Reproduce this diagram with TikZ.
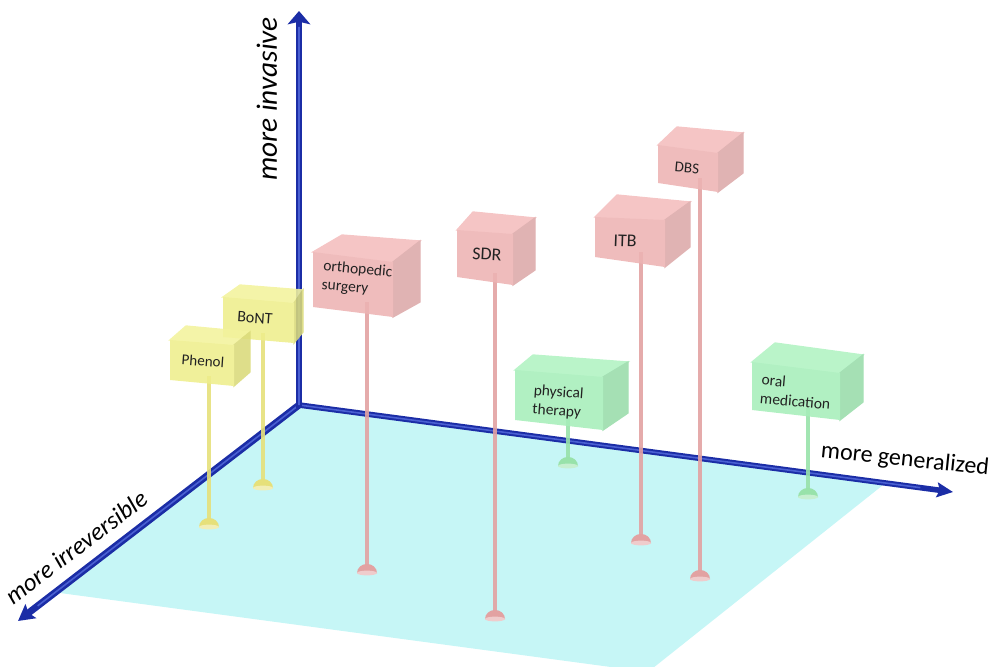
\documentclass[tikz,border=0pt]{standalone}
\usepackage{fontspec}
\setmainfont{Carlito}
\usetikzlibrary{arrows.meta,calc}
\definecolor{floorc}{HTML}{C6F6F6}
\definecolor{axisblue}{HTML}{1B2DA6}
\definecolor{axishl}{HTML}{4A60D2}
\definecolor{redF}{HTML}{EDB3B3}
\definecolor{redT}{HTML}{F4BDBD}
\definecolor{redS}{HTML}{DCA8A8}
\definecolor{redStem}{HTML}{E2A2A2}
\definecolor{yelF}{HTML}{EEEE8C}
\definecolor{yelT}{HTML}{F3F39C}
\definecolor{yelS}{HTML}{DADA7A}
\definecolor{yelStem}{HTML}{E6E07A}
\definecolor{grnF}{HTML}{A6EEB9}
\definecolor{grnT}{HTML}{B0F3C2}
\definecolor{grnS}{HTML}{98DCAA}
\definecolor{grnStem}{HTML}{98E2AA}
\definecolor{labtext}{HTML}{222222}

\newcommand\boxpts[8]{%
  \coordinate (#1FLT) at (#2);
  \coordinate (#1FRT) at (#3);
  \coordinate (#1FRB) at (#4);
  \coordinate (#1FLB) at (#5);
  \coordinate (#1BLT) at (#6);
  \coordinate (#1BRT) at (#7);
  \coordinate (#1BRB) at (#8);
}
\newcommand\drawcuboid[2]{%
  \begin{scope}[transparency group,opacity=.88,line width=.7pt,line join=round]
  \filldraw[fill=#2T,draw=#2T] (#1FLT) -- (#1BLT) -- (#1BRT) -- (#1FRT) -- cycle;
  \filldraw[fill=#2S,draw=#2S] (#1FRT) -- (#1BRT) -- (#1BRB) -- (#1FRB) -- cycle;
  \fill[#2F] (#1FLT) -- (#1FRT) -- (#1FRB) -- (#1FLB) -- cycle;
  \end{scope}
}
\newcommand\stempole[5]{%
  \coordinate (#1top) at (#2,#3);
  \coordinate (#1base) at (#2,#4);
  \draw[stemline,#5] (#1top) -- (#1base);
  \fill[#5] ($(#1base)+(-10,0)$) arc[start angle=180,end angle=0,x radius=7.5pt,y radius=6.8pt] -- cycle;
  \fill[#5!55!white] (#1base) ellipse [x radius=7.5pt,y radius=1.8pt];
}

\tikzset{
  stemline/.style={line width=2.8pt,draw opacity=.9},
  axisline/.style={axisblue,line width=4.8pt},
  axishigh/.style={axishl,line width=1.2pt},
  axislabel/.style={font=\fontsize{18}{20}\selectfont,text=black,inner sep=0pt},
  boxlabel/.style={text=labtext,inner sep=0pt,align=left,font=\fontsize{11.6}{14}\selectfont},
}

\begin{document}
\begin{tikzpicture}[x=0.75pt,y=-0.75pt]
\useasboundingbox (0,0) rectangle (992,667);

% floor
\coordinate (O) at (299,405);
\coordinate (Fr) at (883,485);
\coordinate (Ff) at (648,672);
\coordinate (Fl) at (60,593);
\fill[floorc] (O) -- (Fr) -- (Ff) -- (Fl) -- cycle;

% axes
\coordinate (Xtip) at (953,492);
\coordinate (Ytip) at (18,621);
\coordinate (Ztip) at (299,11);
\draw[axisline,line width=4.2pt,-{Stealth[length=12pt,width=11pt,inset=2pt]}] (O) -- (Xtip);
\draw[axishigh] (O) -- ($(O)!0.95!(Xtip)$);
\draw[axisline,line width=5.2pt,-{Stealth[length=12pt,width=13pt,inset=2pt]}] (O) -- (Ytip);
\draw[axishigh] (O) -- ($(O)!0.93!(Ytip)$);
\draw[axisline,line width=5.2pt,-{Stealth[length=10pt,width=17pt,inset=2pt]}] ($(O)+(0,3)$) -- (Ztip);
\draw[axishigh] ($(O)+(0,0)$) -- ($(O)!0.96!(Ztip)$);

\node[axislabel,font=\fontsize{22}{24}\selectfont\itshape,rotate=90] (zlab) at (267,99) {more invasive};
\node[axislabel,rotate=-6] (xlab) at (905,460) {more generalized};
\node[axislabel,font=\fontsize{18.7}{20}\selectfont\itshape,rotate=37] (ylab) at (76,547) {more irreversible};

% stems with bases
\stempole{ph}{209}{376}{527}{yelStem}
\stempole{bo}{263}{333}{488}{yelStem}
\stempole{or}{367}{302}{573}{redStem}
\stempole{sd}{495}{273}{619}{redStem}
\stempole{py}{568}{415}{466}{grnStem}
\stempole{it}{641}{252}{543}{redStem}
\stempole{db}{700}{178}{579}{redStem}
\stempole{om}{808}{408}{497}{grnStem}

% boxes
\boxpts{db}{658,145}{718,153}{718,192}{658,183}{677,127}{743,133}{743,173}
\boxpts{it}{595,217}{665,220}{665,267}{595,257}{617,195}{690,202}{690,247}
\boxpts{sd}{457,230}{513,234}{513,285}{457,277}{473,212}{535,218}{535,270}
\boxpts{or}{313,252}{393,262}{393,317}{313,307}{342,235}{420,241}{420,302}
\boxpts{bo}{223,297}{294,303}{294,343}{223,337}{240,285}{303,290}{303,332}
\boxpts{ph}{170,340}{234,345}{234,386}{170,380}{186,326}{250,332}{250,372}
\boxpts{py}{515,370}{603,377}{603,430}{515,420}{533,355}{628,362}{628,413}
\boxpts{om}{752,362}{840,373}{840,420}{752,410}{775,343}{863,355}{863,402}

\drawcuboid{db}{red}
\drawcuboid{it}{red}
\drawcuboid{sd}{red}
\drawcuboid{or}{red}
\drawcuboid{bo}{yel}
\drawcuboid{ph}{yel}
\drawcuboid{py}{grn}
\drawcuboid{om}{grn}

% labels
\node[boxlabel,font=\fontsize{11.3}{13}\selectfont,rotate=-4] (phlab) at (203,361) {Phenol};
\node[boxlabel,font=\fontsize{12}{14}\selectfont,rotate=-4] (bolab) at (255,318) {BoNT};
\node[boxlabel,rotate=-5] (orlab) at (357,279) {orthopedic\\surgery};
\node[boxlabel,font=\fontsize{13.5}{15}\selectfont,rotate=-3] (sdlab) at (487,254) {SDR};
\node[boxlabel,font=\fontsize{13.5}{15}\selectfont,rotate=-2] (itlab) at (625,241) {ITB};
\node[boxlabel,font=\fontsize{11.3}{13}\selectfont,rotate=-5] (dblab) at (687,168) {DBS};
\node[boxlabel,rotate=-4] (pylab) at (558,402) {physical\\therapy};
\node[boxlabel,rotate=-5] (omlab) at (796,392) {oral\\medication};
\end{tikzpicture}
\end{document}
